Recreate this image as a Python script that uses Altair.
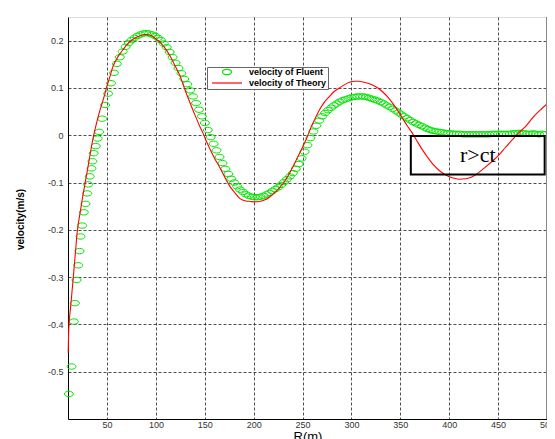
import altair as alt
import pandas as pd

FLUENT = "velocity of Fluent"
THEORY = "velocity of Theory"

# ---- velocity of Fluent (green circles) ----
fluent_r = [10.9, 13.6, 16.0, 17.0, 18.7, 20.5, 21.8, 22.8, 24.5, 26.2,
            27.9, 29.6, 30.6, 32.3, 34.0, 35.0, 36.3, 38.4, 40.4, 41.8,
            45, 48, 51, 54, 57, 60, 63, 66, 69, 72,
            75, 78, 81, 84, 87, 90, 93, 96, 99, 102,
            105, 108, 111, 114, 117, 120, 123, 126, 129, 132,
            135, 138, 141, 144, 147, 150, 153, 156, 159, 162,
            165, 168, 171, 174, 177, 180, 183, 186, 189, 192,
            195, 198, 201, 204, 207, 210, 213, 216, 219, 222,
            225, 228, 231, 234, 237, 240, 243, 246, 249, 252,
            255, 258, 261, 264, 267, 270, 273, 276, 279, 282,
            285, 288, 291, 294, 297, 300, 303, 306, 309, 312,
            315, 318, 321, 324, 327, 330, 333, 336, 339, 342,
            345, 348, 351, 354, 357, 360, 363, 366, 369, 372,
            375, 378, 381, 384, 387, 390, 393, 396, 399, 402,
            405, 408, 411, 414, 417, 420, 423, 426, 429, 432,
            435, 438, 441, 444, 447, 450, 453, 456, 459, 462,
            465, 468, 471, 474, 477, 480, 483, 486, 489, 492,
            495, 498]
fluent_v = [-0.547, -0.489, -0.394, -0.355, -0.306, -0.275, -0.245, -0.214, -0.191, -0.163,
            -0.145, -0.123, -0.104, -0.087, -0.070, -0.055, -0.038, -0.023, -0.007, 0.007,
            0.035, 0.064, 0.088, 0.110, 0.132, 0.151, 0.165, 0.177, 0.187, 0.195,
            0.201, 0.206, 0.210, 0.213, 0.215, 0.216, 0.215, 0.213, 0.210, 0.206,
            0.201, 0.194, 0.186, 0.176, 0.165, 0.153, 0.142, 0.131, 0.119, 0.108,
            0.095, 0.082, 0.068, 0.054, 0.040, 0.026, 0.011, -0.004, -0.018, -0.032,
            -0.046, -0.059, -0.071, -0.082, -0.092, -0.100, -0.108, -0.115, -0.120, -0.125,
            -0.128, -0.130, -0.131, -0.131, -0.130, -0.128, -0.125, -0.122, -0.118, -0.114,
            -0.110, -0.105, -0.099, -0.093, -0.087, -0.080, -0.071, -0.061, -0.049, -0.035,
            -0.021, -0.006, 0.008, 0.020, 0.031, 0.040, 0.047, 0.053, 0.058, 0.063,
            0.067, 0.071, 0.074, 0.076, 0.078, 0.080, 0.081, 0.082, 0.082, 0.082,
            0.081, 0.079, 0.077, 0.075, 0.073, 0.070, 0.067, 0.063, 0.060, 0.056,
            0.052, 0.048, 0.044, 0.040, 0.036, 0.032, 0.028, 0.025, 0.022, 0.019,
            0.016, 0.013, 0.011, 0.009, 0.008, 0.007, 0.006, 0.005, 0.004, 0.004,
            0.003, 0.003, 0.003, 0.002, 0.002, 0.002, 0.002, 0.002, 0.002, 0.002,
            0.002, 0.002, 0.002, 0.003, 0.003, 0.003, 0.003, 0.003, 0.003, 0.003,
            0.004, 0.004, 0.005, 0.005, 0.004, 0.003, 0.003, 0.004, 0.003, 0.002,
            0.003, 0.002]

# ---- velocity of Theory (red line) ----
theory_r = [10.2, 10.8, 12.6, 15.4, 17.5, 19.4, 22.8, 25.0, 27.6, 30.0,
            33.0, 36.3, 39.0, 42.0, 45.0, 47.0, 49.3, 52.0, 56.1, 60.0,
            63.0, 66.3, 70.0, 76.5, 83.0, 90.0, 95.0, 100.2, 105.0, 110.0,
            114.5, 120.0, 124.7, 129.0, 134.9, 140.0, 145.0, 148.0, 151.0, 155.0,
            160, 165, 170, 175, 180, 186, 192, 197, 201, 206,
            211, 216, 223, 230, 235, 240, 245, 250.3, 255, 258.8,
            263, 267.3, 272, 277.5, 282, 287.7, 293, 298, 303, 308,
            313, 317, 321.6, 327, 331.8, 337, 342, 347, 352.2, 357,
            362.4, 367, 372.6, 378, 382.8, 390, 396.4, 403, 410, 417,
            423.5, 430, 437.2, 444, 450.7, 457, 464.3, 471, 477.9, 483,
            488, 494, 500]
theory_v = [-0.460, -0.410, -0.365, -0.301, -0.250, -0.205, -0.159, -0.130, -0.100, -0.072,
            -0.036, 0.000, 0.024, 0.048, 0.068, 0.082, 0.100, 0.118, 0.146, 0.162,
            0.172, 0.181, 0.191, 0.203, 0.210, 0.213, 0.211, 0.203, 0.195, 0.182,
            0.167, 0.145, 0.125, 0.100, 0.068, 0.042, 0.018, 0.005, -0.010, -0.028,
            -0.049, -0.067, -0.087, -0.106, -0.120, -0.134, -0.139, -0.140, -0.141, -0.140,
            -0.137, -0.131, -0.118, -0.102, -0.086, -0.067, -0.046, -0.024, -0.002, 0.018,
            0.036, 0.054, 0.069, 0.082, 0.092, 0.100, 0.107, 0.112, 0.114, 0.114,
            0.112, 0.110, 0.106, 0.100, 0.092, 0.081, 0.068, 0.053, 0.036, 0.020,
            0.004, -0.012, -0.031, -0.047, -0.060, -0.075, -0.084, -0.090, -0.093, -0.092,
            -0.088, -0.079, -0.067, -0.055, -0.042, -0.027, -0.010, 0.005, 0.018, 0.031,
            0.043, 0.055, 0.066]

# ---- axes and annotation ----
x_ticks = [50, 100, 150, 200, 250, 300, 350, 400, 450, 500]
y_ticks = [-0.5, -0.4, -0.3, -0.2, -0.1, 0.0, 0.1, 0.2]
x_domain = [10, 500]
y_domain = [-0.6, 0.25]
box_r = [360.7, 497.6]
box_v = [-0.0015, -0.083]
box_label = "r>ct"

assert len(fluent_r) == len(fluent_v)
assert len(theory_r) == len(theory_v)

df_f = pd.DataFrame({"R": fluent_r, "v": fluent_v, "series": FLUENT})
df_t = pd.DataFrame({"R": theory_r, "v": theory_v, "series": THEORY})
df_box = pd.DataFrame({"r1": [box_r[0]], "r2": [box_r[1]], "v1": [box_v[0]], "v2": [box_v[1]],
                       "rm": [(box_r[0] + box_r[1]) / 2], "vm": [(box_v[0] + box_v[1]) / 2],
                       "label": [box_label]})
df_edge = pd.DataFrame({"R": [x_domain[1]]})

ellipse = "M-0.3,0A0.3,0.18 0 1,0 0.3,0A0.3,0.18 0 1,0 -0.3,0Z"
color_scale = alt.Scale(domain=[FLUENT, THEORY], range=["#00e600", "#ff0000"])
shape_scale = alt.Scale(domain=[FLUENT, THEORY], range=[ellipse, "stroke"])

xs = alt.Scale(domain=x_domain, nice=False, zero=False)
ys = alt.Scale(domain=y_domain, nice=False, zero=False)

label_expr_y = ("datum.value == 0 ? '0' : (datum.value < 0 ? '-' + format(-datum.value, '.1f') "
                ": format(datum.value, '.1f'))")

x_axis = alt.Axis(values=x_ticks, title="R(m)", titleFontSize=13, titleFontWeight="normal",
                  titleFont="Liberation Sans", titleY=11, titleBaseline="top",
                  labelFont="Liberation Sans", labelFontSize=9, labelColor="#333",
                  labelPadding=1, tickSize=0, domainColor="#000", grid=True,
                  gridColor="#222", gridDash=[3, 2], gridWidth=0.8, labelFlush=False,
                  labelOverlap=False)
y_axis = alt.Axis(values=y_ticks, title="velocity(m/s)", titleFontSize=10, titleFontWeight="bold",
                  titleFont="Liberation Sans", titleX=-48, titleY=202, titleAngle=270,
                  titleBaseline="middle", titleAlign="center",
                  labelFont="Liberation Sans", labelFontSize=9, labelColor="#333",
                  labelPadding=5, tickSize=0, domainColor="#000", grid=True,
                  gridColor="#222", gridDash=[3, 2], gridWidth=0.8, labelExpr=label_expr_y,
                  labelFlush=False, labelOverlap=False)

legend = alt.Legend(title=None, orient="none", legendX=139, legendY=50,
                    fillColor="white", strokeColor="#666", padding=1,
                    labelFont="Liberation Sans", labelFontSize=9, labelFontWeight="bold",
                    labelColor="#000", symbolSize=900, symbolStrokeWidth=1.2,
                    clipHeight=8, rowPadding=2, labelOffset=6, symbolOffset=3,
                    cornerRadius=0)

points = alt.Chart(df_f).mark_point(filled=False, size=900, strokeWidth=1, opacity=1).encode(
    x=alt.X("R:Q", scale=xs, axis=x_axis),
    y=alt.Y("v:Q", scale=ys, axis=y_axis),
    color=alt.Color("series:N", scale=color_scale, legend=legend),
    shape=alt.Shape("series:N", scale=shape_scale, legend=legend),
)

line = alt.Chart(df_t).mark_line(strokeWidth=1.1, interpolate="monotone").encode(
    x=alt.X("R:Q", scale=xs),
    y=alt.Y("v:Q", scale=ys),
    color=alt.Color("series:N", scale=color_scale, legend=legend),
)

box = alt.Chart(df_box).mark_rect(fill=None, stroke="#000", strokeWidth=2).encode(
    x=alt.X("r1:Q", scale=xs), x2="r2:Q",
    y=alt.Y("v1:Q", scale=ys), y2="v2:Q",
)
box_text = alt.Chart(df_box).mark_text(font="Liberation Serif", fontSize=22, color="#000").encode(
    x=alt.X("rm:Q", scale=xs), y=alt.Y("vm:Q", scale=ys), text="label:N",
)
edge = alt.Chart(df_edge).mark_rule(color="#888", strokeWidth=2).encode(x=alt.X("R:Q", scale=xs))

chart = alt.layer(points, line, box, box_text, edge).properties(
    width=479, height=402,
    autosize=alt.AutoSizeParams(type="none"),
    padding={"left": 60, "top": 9, "right": 0, "bottom": 22},
).configure_view(stroke="#000", strokeWidth=1).configure(background="white")

chart.save("out.html", embed_options={"renderer": "svg", "actions": False})
